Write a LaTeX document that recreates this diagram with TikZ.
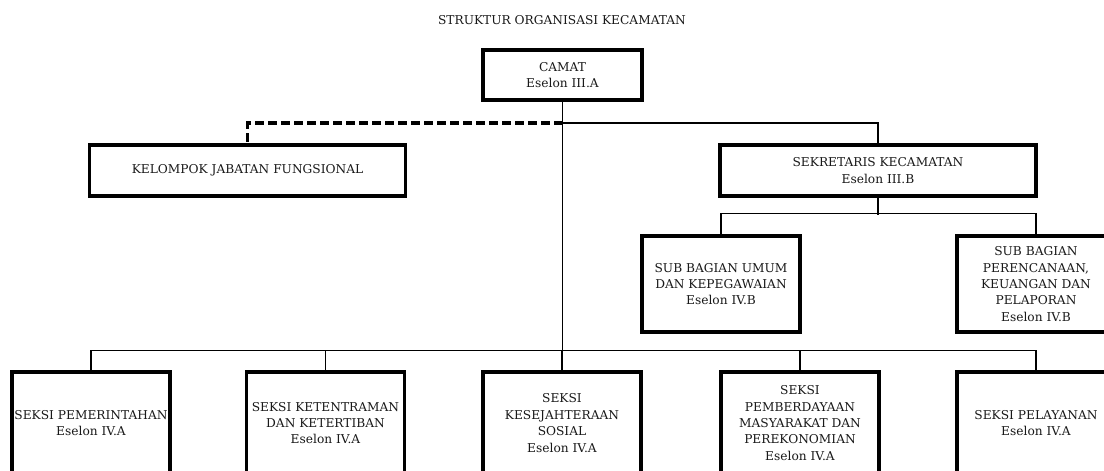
\documentclass[tikz,border=0pt]{standalone}
\usepackage{fontspec}
\setmainfont{DejaVu Serif}
\usetikzlibrary{calc}
\begin{document}
\begin{tikzpicture}[x=0.5pt,y=-0.5pt,
  txt/.style={font=\fontsize{6.1}{8.2}\selectfont, text=black!90},
  box/.style={txt, draw, line width=1.6pt, inner sep=0pt, align=center},
  wide/.style={box, minimum width=158pt, minimum height=25.5pt},
  sub/.style={box, minimum width=79pt, minimum height=48pt},
  sek/.style={box, minimum width=79pt, minimum height=51pt},
  conn/.style={line width=0.8pt},
  dconn/.style={line width=1.6pt, dash pattern=on 4.5pt off 2pt}]
\clip (0,0) rectangle (1104,471);
\fill[white] (0,0) rectangle (1104,471);

\node[txt] (title) at (562,20) {STRUKTUR ORGANISASI KECAMATAN};
\node[box, minimum width=79.5pt, minimum height=25pt] (camat) at (562.5,75) {CAMAT\\Eselon III.A};
\node[wide] (kjf) at (247.5,170.5) {KELOMPOK JABATAN FUNGSIONAL};
\node[wide] (sekr) at (878,170.5) {SEKRETARIS KECAMATAN\\Eselon III.B};
\node[sub] (umum) at (721,284) {SUB BAGIAN UMUM\\DAN KEPEGAWAIAN\\Eselon IV.B};
\node[sub] (renc) at (1036,284) {SUB BAGIAN\\PERENCANAAN,\\KEUANGAN DAN\\PELAPORAN\\Eselon IV.B};

\node[sek] (s1) at (91,423) {SEKSI PEMERINTAHAN\\Eselon IV.A};
\node[sek] (s2) at (325.5,423) {SEKSI KETENTRAMAN\\DAN KETERTIBAN\\Eselon IV.A};
\node[sek] (s3) at (562,423) {SEKSI\\KESEJAHTERAAN\\SOSIAL\\Eselon IV.A};
\node[sek] (s4) at (800,423) {SEKSI\\PEMBERDAYAAN\\MASYARAKAT DAN\\PEREKONOMIAN\\Eselon IV.A};
\node[sek] (s5) at (1036,423) {SEKSI PELAYANAN\\Eselon IV.A};

\coordinate (j) at (562.5,123);
\coordinate (busb) at (562.5,352);
\draw[conn] (camat.south) -- (busb);
\draw[dconn] (j) -| (kjf.north);
\draw[conn, line width=0.6pt] (j) -| (sekr.north);

\draw[conn] (sekr.south) -- (sekr.south |- 0,215);
\draw[conn] (umum.north) -- ++(0,-21) -| (renc.north);

\draw[conn] (s1.north) -- ++(0,-20) -| (s5.north);
\draw[conn] (s2.north) -- ++(0,-20);
\draw[conn] (s3.north) -- ++(0,-20);
\draw[conn] (s4.north) -- ++(0,-20);
\end{tikzpicture}
\end{document}
